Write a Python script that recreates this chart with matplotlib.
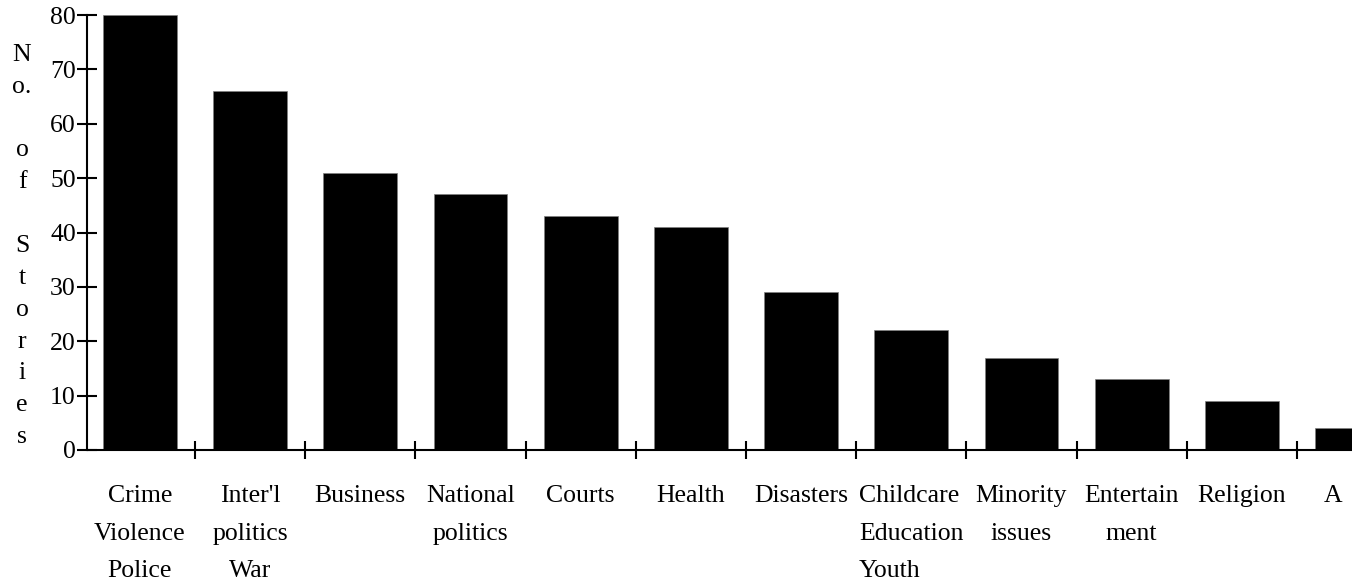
import matplotlib
matplotlib.use("Agg")
import matplotlib.pyplot as plt
import matplotlib.transforms as mtransforms
import numpy as np

categories = ["Crime\nViolence\nPolice", "Inter'l\npolitics\nWar", "Business",
              "National\npolitics", "Courts", "Health", "Disasters",
              "Childcare\nEducation\nYouth", "Minority\nissues", "Entertain\nment",
              "Religion", "A"]
stories = [80, 66, 51, 47, 43, 41, 29, 22, 17, 13, 9, 4]
y_ticks = [0, 10, 20, 30, 40, 50, 60, 70, 80]

plt.rcParams['font.family'] = ['Liberation Serif', 'DejaVu Serif']

W, H = 1357, 581
fig = plt.figure(figsize=(W / 100, H / 100), dpi=100)
ax = fig.add_axes([87 / W, (H - 450) / H, (1352 - 87) / W, (450 - 15) / H])

x = np.arange(len(categories))
ax.bar(x, stories, width=0.67, color='black', edgecolor='#808080', linewidth=0.5)

ax.set_xlim(-0.48, 10.94)
ax.set_ylim(0, 80)
ax.set_yticks(y_ticks)
ax.set_yticklabels([str(v) for v in y_ticks], fontsize=18.5)

ax.set_xticks(x)
ax.set_xticklabels(categories, fontsize=18.5, linespacing=1.9, va='top')
ax.tick_params(axis='x', which='major', length=0, pad=25.5)
ax.set_xticks(x[:-1] + 0.5, minor=True)
ax.tick_params(axis='x', which='minor', direction='inout', length=13, width=1.5)
ax.tick_params(axis='y', direction='inout', length=14, width=1.5, pad=1)

labels = ax.get_xticklabels()
labels[7].set_multialignment('left')
# the last label sits left of its (clipped) bar so it stays inside the picture
labels[-1].set_transform(labels[-1].get_transform() +
                         mtransforms.ScaledTranslation(-19 / 100, 0, fig.dpi_scale_trans))

for s in ['top', 'right']:
    ax.spines[s].set_visible(False)
for s in ['left', 'bottom']:
    ax.spines[s].set_linewidth(1.5)
ax.spines['bottom'].set_capstyle('butt')

fig.text(22 / W, (H - 246) / H, "N\no.\n\no\nf\n\nS\nt\no\nr\ni\ne\ns",
         ha='center', va='center', fontsize=18.5, linespacing=1.58)

fig.savefig("out.png", dpi=100)
